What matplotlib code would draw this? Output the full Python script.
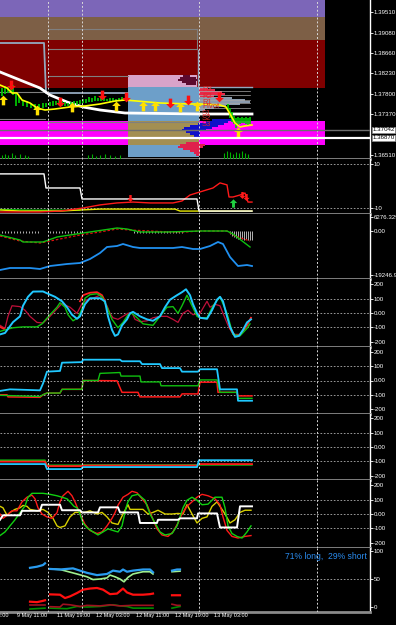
import numpy as np
import matplotlib
matplotlib.use('Agg')
import matplotlib.pyplot as plt
from matplotlib.path import Path
import matplotlib.transforms as mtrans

plt.rcParams['font.family'] = ['Liberation Sans', 'DejaVu Sans']
nan = np.nan

# ---------------- shared ----------------
vgrid_x = [48, 82, 199, 317]
time_tick_x = [-22, 17, 57, 96, 136, 175, 214]
time_tick_labels = ['9 May 03:00', '9 May 11:00', '11 May 19:00', '12 May 03:00',
                    '12 May 11:00', '12 May 19:00', '13 May 03:00']

# ---------------- panel 1 : price ----------------
price_ticks = [1.39510, 1.39080, 1.38660, 1.38230, 1.37800, 1.37370, 1.36510]
band_lo = [1.39412, 1.38928, 1.37919, 1.36721]
band_hi = [1.39800, 1.39412, 1.38928, 1.37226]
band_colors = ['#7c66b8', '#7d5f46', '#800000', '#ff00ff']
box_x0 = [128, 128, 128]
box_x1 = [199, 197, 199]
box_lo = [1.36469, 1.37940, 1.36721]
box_hi = [1.37940, 1.38193, 1.37226]
box_colors = ['#6d9fc9', '#d9a3c9', '#a38f52']

prof_price = [1.38171, 1.38129, 1.38087, 1.38045, 1.38003,
              1.37919, 1.37877, 1.37835, 1.37793, 1.37751,
              1.37709, 1.37667, 1.37625, 1.37583, 1.37541, 1.37499, 1.37457,
              1.37247, 1.37205, 1.37163, 1.37121, 1.37079, 1.37036, 1.36994, 1.36952, 1.36910,
              1.36763, 1.36721, 1.36679, 1.36637, 1.36595, 1.36553, 1.36511]
prof_left = [183, 180, 178, 182, 186,
             199, 199, 199, 199, 199,
             199, 199, 199, 199, 199, 199, 199,
             212, 206, 198, 190, 184, 182, 186, 190, 194,
             186, 180, 178, 183, 190, 194, 196]
prof_right = [190, 196, 198, 196, 196,
              208, 215, 222, 225, 214,
              232, 245, 250, 240, 226, 214, 205,
              232, 228, 224, 218, 212, 206, 200, 200, 200,
              200, 205, 203, 200, 200, 200, 200]
prof_colors = ['#5c0a2e'] * 5 + ['#e8284a'] * 5 + ['#8c9cae'] * 7 + ['#1010c8'] * 9 + ['#e0204c'] * 7
prof_line_price = [1.37856, 1.37772, 1.37667, 1.37604, 1.37499]

steel_x = [0, 44, 46, 128]
steel_p = [1.38865, 1.38865, 1.37814, 1.37814]
steel2_x = [198, 198, 252]
steel2_p = [1.38718, 1.37940, 1.37940]
gray_seg_x = [[48, 197], [48, 197], [197, 197], [48, 128], [0, 45], [0, 45], [48, 199]]
gray_seg_p = [[1.39159, 1.39159], [1.38739, 1.38739], [1.39159, 1.38739], [1.38171, 1.38171],
              [1.37835, 1.37835], [1.37268, 1.37268], [1.37205, 1.37205]]

white_ma_x = [0, 20, 40, 50, 67, 83, 100, 125, 200, 252]
white_ma_p = [1.38256, 1.38087, 1.37919, 1.37772, 1.37625, 1.37520, 1.37457, 1.37394, 1.37373, 1.37373]
yel_x = [0, 7, 12, 17, 22, 30, 37, 45, 55, 70, 85, 100, 115, 125, 160, 190, 200, 220, 226, 230, 235, 240, 245, 252]
yel_p = [1.37982, 1.37919, 1.37814, 1.37814, 1.37667, 1.37604, 1.37499, 1.37457, 1.37478, 1.37520,
         1.37541, 1.37583, 1.37646, 1.37667, 1.37604, 1.37583, 1.37583, 1.37562, 1.37520, 1.37373,
         1.37184, 1.37100, 1.37121, 1.37142]

candle_x = [2, 5, 8, 11, 13, 16, 19, 23, 27, 31, 35, 39, 43, 46, 50, 53, 56, 59, 62, 65, 68, 71, 74, 77,
            80, 83, 86, 89, 92, 95, 98, 101, 104, 107, 110, 113, 116, 119, 122, 125,
            228, 230, 232, 234, 236, 238, 240, 242, 244, 246, 248, 250]
candle_hi = [1.37919, 1.37961, 1.37940, 1.38003, 1.37982, 1.37793, 1.37751, 1.37667, 1.37646, 1.37604,
             1.37583, 1.37583, 1.37604, 1.37604, 1.37625, 1.37646, 1.37646, 1.37667, 1.37646, 1.37625,
             1.37604, 1.37625, 1.37646, 1.37646, 1.37667, 1.37688, 1.37688, 1.37730, 1.37709, 1.37751,
             1.37709, 1.37730, 1.37730, 1.37688, 1.37709, 1.37709, 1.37688, 1.37709, 1.37730, 1.37709,
             1.37583, 1.37499, 1.37415, 1.37331, 1.37289, 1.37310, 1.37289, 1.37310, 1.37289, 1.37310,
             1.37289, 1.37310]
candle_lo = [1.37751, 1.37793, 1.37814, 1.37835, 1.37772, 1.37541, 1.37604, 1.37541, 1.37520, 1.37499,
             1.37457, 1.37478, 1.37499, 1.37520, 1.37541, 1.37541, 1.37562, 1.37562, 1.37541, 1.37541,
             1.37541, 1.37541, 1.37562, 1.37562, 1.37583, 1.37604, 1.37604, 1.37625, 1.37625, 1.37646,
             1.37646, 1.37646, 1.37646, 1.37646, 1.37625, 1.37625, 1.37625, 1.37646, 1.37667, 1.37646,
             1.37457, 1.37289, 1.37205, 1.37163, 1.37079, 1.37142, 1.37163, 1.37184, 1.37184, 1.37163,
             1.37121, 1.37163]
vol_x = [2, 5, 8, 12, 15, 20, 25, 28, 88, 92, 96, 100, 105, 110, 115, 120,
         224, 227, 230, 233, 236, 239, 242, 245, 248]
vol_top = [1.36511, 1.36532, 1.36511, 1.36553, 1.36511, 1.36532, 1.36511, 1.36490, 1.36511, 1.36532,
           1.36490, 1.36511, 1.36532, 1.36511, 1.36490, 1.36511, 1.36553, 1.36595, 1.36574, 1.36532,
           1.36574, 1.36553, 1.36595, 1.36553, 1.36532]

up_x = [3, 37, 72, 116, 143, 155, 180, 197, 238]
up_p = [1.37667, 1.37457, 1.37520, 1.37541, 1.37541, 1.37541, 1.37520, 1.37541, 1.36994]
dn_x = [11, 60, 102, 126, 170, 188, 219]
dn_p = [1.37982, 1.37625, 1.37772, 1.37730, 1.37604, 1.37667, 1.37730]

pivot_names = ['R3', 'R2', 'R1', 'Pivot', 'S1', 'S2', 'S3']
pivot_p = [1.37898, 1.37751, 1.37625, 1.37520, 1.37373, 1.37268, 1.37142]
bid_price = 1.37042
ask_price = 1.36870

# ---------------- panel 2 ----------------
p2_white_x = [0, 44, 46, 80, 82, 197, 199, 252]
p2_white_v = [5.5, 5.5, -0.9, -0.9, -5.9, -5.9, -11.4, -11.4]
p2_red_x = [0, 40, 60, 83, 100, 117, 133, 150, 173, 182, 190, 200, 213, 220, 227, 229, 233, 240, 245, 248, 252]
p2_red_v = [-11.8, -11.8, -11.4, -10.0, -8.6, -7.7, -7.3, -7.7, -7.7, -6.8, -4.1, -2.7, -0.9, 1.4, 0.5,
            -5.0, -5.0, -4.1, -3.2, -7.3, -7.3]
p2_yel_x = [0, 20, 60, 80, 100, 175, 180, 240, 252]
p2_yel_v = [-10.9, -11.4, -11.4, -10.9, -10.5, -10.5, -11.4, -11.4, -11.4]
p2_grn_x = [0, 30, 80]
p2_grn_v = [-10.7, -11.0, -11.0]
p2_up_x, p2_up_v = [233], [-7.9]
p2_dn_x, p2_dn_v = [130, 242, 246], [-5.5, -4.3, -4.8]

# ---------------- panel 3 ----------------
p3_labels_v = [6276.329, 0.0, -19246.9]
p3_labels = ['6276.329', '0.00', '-19246.9']
p3_grn_x = [0, 20, 23, 43, 57, 83, 117, 127, 140, 167, 200, 227, 233, 250]
p3_grn_v = [-1750, -3937, -4811, -4811, -2624, -875, 1312, 875, -437, -437, 0, 0, -1312, -6998]
p3_red_x = [0, 20, 40, 60, 80, 100, 117, 130, 150, 170, 185, 200, 227, 235, 250]
p3_red_v = [-2187, -4374, -5249, -3499, -1750, -437, 875, 437, 0, -437, -437, 0, 0, -2187, -4374]
p3_blue_x = [0, 10, 30, 40, 50, 67, 80, 90, 100, 107, 117, 123, 133, 140, 150, 173, 182, 193, 200,
             210, 218, 223, 230, 238, 247, 252]
p3_blue_v = [-17059, -16184, -16184, -16621, -15309, -14434, -13997, -12247, -9623, -6998, -6561,
             -5686, -6998, -7436, -7436, -7436, -6998, -7873, -7873, -6561, -4811, -5686, -11372,
             -15309, -14872, -15309]
p3_hist_x = [2, 5, 8, 11, 14, 17, 20, 23, 26, 29, 32, 35, 38, 50, 53, 56, 59, 62, 65, 68, 71, 74, 77, 80,
             134, 137, 140, 143, 146, 149, 152, 155, 158, 161, 164, 167, 170, 173, 176, 179, 182,
             230, 232, 234, 236, 238, 240, 242, 244, 246, 248, 250, 252]
p3_hist_v = [-900, -800, -900, -1000, -900, -800, -900, -900, -1000, -900, -800, -900, -900,
             -700, -800, -700, -800, -900, -800, -700, -800, -800, -700, -800,
             -700, -800, -900, -800, -700, -800, -800, -900, -800, -700, -800, -900, -800, -700, -800, -800, -700,
             -1500, -2200, -2600, -3000, -3300, -3500, -3700, -3900, -3700, -3900, -4100, -3900]

# ---------------- panel 4 ----------------
osc_ticks = [200, 100, 0, -100, -200]
osc_tick_labels = ['200', '100', '0.00', '-100', '-200']
p4_cyan_x = [0, 5, 13, 20, 23, 28, 33, 43, 48, 55, 62, 67, 72, 77, 80, 85, 90, 100, 105, 108, 112, 115,
             118, 122, 127, 130, 133, 140, 147, 153, 160, 165, 170, 177, 182, 186, 190, 193, 197, 200,
             207, 212, 217, 220, 223, 227, 230, 235, 239, 243, 247, 251]
p4_cyan_v = [-148, -138, -63, -23, 50, 112, 148, 149, 133, 112, 81, 40, -12, -40, -23, 61, 102, 102, 81,
             -23, -117, -158, -148, -86, -44, -2, 8, -23, -44, -54, -23, 40, 92, 123, 144, 164, 123, 61,
             -2, -33, -40, 19, 92, 112, 81, -23, -96, -165, -158, -117, -65, -44]
p4_grn_x = [0, 5, 13, 23, 37, 42, 50, 57, 60, 65, 68, 73, 78, 82, 85, 90, 97, 102, 107, 112, 118, 123,
            128, 132, 137, 143, 153, 160, 167, 173, 178, 182, 187, 192, 197, 200, 207, 213, 220, 227,
            233, 240, 247, 250]
p4_grn_v = [-127, -117, -102, -96, -96, -75, -12, 40, 71, 40, -12, -54, -33, 29, 102, 127, 133, 112, 40,
            -44, -102, -65, -12, -2, -33, -75, -85, -23, 40, 44, -2, 50, 123, 50, -23, -33, -33, 50, 112,
            -2, -148, -158, -106, -75]
p4_red_x = [0, 4, nan, 80, 83, 90, 97, 102, 105, nan, 230, 235, 240, 247, 251]
p4_red_v = [-96, -110, nan, 81, 123, 140, 144, 123, 81, nan, -106, -158, -152, -85, -33]
p4_dred_x = [0, 5, 8, 12, 20, 25, 30, 37, 43, 50, 57, 62, 70, 77, 82, 87, 93, 100, 107, 110, 113, 118,
             123, 128, 132, 135, 140, 147, 153, 160, 167, 173, 178, 183, 188, 193, 200, 207, 210, 215,
             220, 223, 228, 233, 240, 247, 251]
p4_dred_v = [-85, -106, -23, 50, 44, 19, -23, -65, -69, -23, 29, 65, 40, -2, 65, 92, 102, 123, 50, -2,
             -33, -44, -23, -2, 2, -44, -60, -54, -33, -23, -23, -44, -65, -2, 19, -12, -2, 81, 40, 60,
             50, -2, -85, -148, -148, -85, -33]

# ---------------- panel 5 ----------------
p5_cyan_x = [0, 10, 40, 43, 47, 60, 62, 82, 83, 120, 122, 140, 142, 160, 162, 180, 182, 198, 200, 217,
             220, 237, 238, 252]
p5_cyan_v = [-73, -62, -69, -21, 62, 67, 125, 129, 146, 146, 135, 135, 115, 115, 87, 87, 62, 62, 79, 79,
             -62, -62, -142, -142]
p5_grn_x = [0, 40, 43, 47, 60, 62, 82, 83, 98, 100, 120, 121, 140, 141, 160, 161, 198, 200, 217, 220,
            237, 238, 252]
p5_grn_v = [-104, -112, -100, -88, -88, -62, -62, 0, 0, 50, 56, 31, 31, -10, -10, -37, -37, 4, 4, -83,
            -83, -125, -125]
p5_red_x = [0, 7, 8, 40, 43, 47, 60, 62, 82, 83, 117, 122, 138, 140, 180, 182, 198, 200, 217, 218, 237,
            238, 252]
p5_red_v = [-100, -100, -115, -118, -100, -88, -88, -62, -62, 0, -2, -83, -83, -115, -115, -94, -94,
            -12, -12, -83, -83, -108, -108]

# ---------------- panel 6 ----------------
p6_x = [0, 45, 47, 81, 83, 197, 199, 252]
p6_grn_v = [-92, -92, -127, -127, -125, -125, -125, -125]
p6_red_v = [-102, -102, -133, -133, -129, -129, -119, -119]
p6_cyan_v = [-119, -119, -154, -154, -140, -140, -92, -92]

# ---------------- panel 7 ----------------
p7_grn_x = [0, 5, 10, 15, 20, 25, 28, 32, 43, 50, 57, 62, 67, 70, 74, 77, 80, 83, 87, 93, 98, 103, 108,
            113, 118, 122, 124, 126, 128, 132, 138, 145, 150, 155, 160, 165, 172, 177, 180, 183, 187,
            192, 197, 202, 208, 215, 222, 225, 228, 232, 237, 242, 247, 251]
p7_grn_v = [-149, -124, -82, -40, 9, 55, 116, 143, 143, 136, 126, 116, 105, 84, 53, 43, 0, -62, -95,
            -124, -145, -124, -103, -114, -124, -82, -20, 43, 85, 126, 136, 95, 0, -62, -124, -145, -135,
            -82, -20, 43, 95, 116, 95, 64, 68, 116, 116, 43, -82, -135, -155, -166, -124, -82]
p7_red_x = [0, 3, 7, 12, 17, 22, 27, 32, 35, 38, 42, 47, 52, 57, 60, 63, 68, 72, 75, 80, 85, 90, 97,
            102, 107, 112, 115, 118, 123, 128, 132, 137, 142, 147, 152, 157, 162, 168, 173, 178, 182,
            187, 192, 197, 202, 208, 215, 220, 223, 227, 232, 238, 245, 251]
p7_red_v = [0, -30, -9, 22, 22, 84, 116, 130, 105, 43, 0, -20, -30, 9, 84, 126, 157, 126, 84, 0, -72,
            -114, -135, -124, -82, -30, 9, 61, 116, 136, 157, 147, 105, 64, -20, -103, -145, -155, -124,
            -62, 0, 53, 84, 116, 136, 126, 105, 64, -20, -114, -155, -166, -155, -149]
p7_yel_x = [0, 3, 7, 10, 15, 20, 23, 27, 30, 37, 43, 48, 53, 57, 60, 65, 70, 75, 80, 85, 90, 97, 102,
            107, 112, 118, 123, 128, 130, 137, 143, 148, 153, 158, 165, 172, 178, 183, 187, 192, 197,
            202, 207, 212, 217, 222, 225, 230, 235, 240, 245, 251]
p7_yel_v = [53, 43, -9, 11, 32, 43, 59, 53, 32, 22, 32, 11, -30, -82, -93, -82, -20, 11, 11, 11, 22, 0,
            11, -20, -62, -72, 0, 64, 32, 32, 32, 0, 11, 26, 0, 0, 4, 0, 64, 0, -62, -30, -20, 53, 84,
            32, 0, -62, -40, 11, 26, 26]
p7_white_x = [0, 3, 20, 22, 40, 42, 60, 62, 80, 82, 98, 100, 118, 120, 138, 140, 157, 158, 178, 180,
              197, 198, 217, 220, 237, 240, 252]
p7_white_v = [-40, -9, -9, 22, 22, 64, 64, 26, 26, 11, 11, 46, 46, 11, 11, -62, -62, -40, -40, -30,
              -30, 4, 4, -93, -93, 53, 53]

# ---------------- panel 8 : sentiment ----------------
p8_ticks = [100, 50, 0]
p8_blue_x = [30, 37, 43, 45, nan, 50, 60, 73, 80, 87, 97, 107, 113, 120, 123, 127, 133, 143, 150, 153,
             nan, 172, 177, 180]
p8_blue_v = [70, 72, 75, 78, nan, 68, 67, 69, 65, 61, 57, 59, 65, 63, 67, 63, 65, 67, 67, 62, nan,
             65, 67, 67]
p8_lgrn_x = [50, 60, 77, 87, 93, 100, 107, 110, 115, 120, 124, 128, 133, 143, 150, 153, nan, 172, 180]
p8_lgrn_v = [68, 67, 59, 54, 49, 50, 52, 57, 54, 50, 45, 53, 59, 63, 63, 59, nan, 63, 64]
p8_red_x = [30, 37, 43, 45, nan, 50, 60, 65, 70, 77, 83, 90, 97, 103, 110, 117, 123, 127, 133, 143,
            150, 153, nan, 172, 180]
p8_red_v = [9.5, 8.7, 11, 12, nan, 22.6, 22, 16, 19, 25, 31, 33, 34, 31, 23, 24, 33, 26, 22, 22, 23,
            24, nan, 21, 21]
p8_dred_x = [30, 45, nan, 50, 60, 63, 70, 80, 87, 100, 110, 120, 133, 153, nan, 172, 177, 180]
p8_dred_v = [3.6, 3.6, nan, 0.6, 0, 5, 4, 1, 3, 2, 4, 2, 3, 3, nan, 5, 3, 3]
p8_grn_x = [30, 45, nan, 50, 67, 77, 87, 100, 113, 120, 127, 133, 153, nan, 172, 180]
p8_grn_v = [-3.6, -2, nan, -2, -3, 1, 0, 1, 4, 2, 1, -2, -2, nan, -2, 1]
sentiment_text = '71% long,  29% short'

# ---------------- layout ----------------
W, H = 396, 625
AXR = 370
TICK_FS = 4.4
fig = plt.figure(figsize=(W / 100, H / 100), dpi=100, facecolor='black')

up_path = Path([(0, 1), (-0.9, 0.1), (-0.35, 0.1), (-0.35, -1), (0.35, -1), (0.35, 0.1), (0.9, 0.1), (0, 1)],
               [Path.MOVETO] + [Path.LINETO] * 6 + [Path.CLOSEPOLY])
dn_path = Path([(0, -1), (-0.9, -0.1), (-0.35, -0.1), (-0.35, 1), (0.35, 1), (0.35, -0.1), (0.9, -0.1), (0, -1)],
               [Path.MOVETO] + [Path.LINETO] * 6 + [Path.CLOSEPOLY])


def make_ax(top, bot, ylim, ticks, labels, hlevels=()):
    ax = fig.add_axes([0, 1 - bot / H, AXR / W, (bot - top) / H])
    ax.set_facecolor('black')
    ax.set_xlim(0, AXR)
    ax.set_ylim(*ylim)
    ax.spines['left'].set_visible(False)
    ax.spines['top'].set_visible(False)
    ax.spines['right'].set_color('white')
    ax.spines['right'].set_linewidth(1.0)
    ax.spines['bottom'].set_color('#8a8a8a')
    ax.spines['bottom'].set_linewidth(2.0)
    ax.set_yticks(ticks)
    ax.set_yticklabels(labels)
    ax.tick_params(axis='y', left=False, right=True, labelleft=False, labelright=True,
                   colors='white', labelsize=TICK_FS, length=2, width=0.6, pad=0.8)
    ax.tick_params(axis='x', bottom=False, labelbottom=False)
    for xv in vgrid_x:
        ax.axvline(xv, color='#d8d8d8', lw=0.7, ls=(0, (2, 2)), zorder=6)
    for hv in hlevels:
        ax.axhline(hv, color='#b0b0b0', lw=0.6, ls=(0, (2, 2)), zorder=1)
    return ax


# ---- panel 1
ax1 = make_ax(0, 159, (1.36427, 1.39769), price_ticks, ['%.5f' % p for p in price_ticks])
for lo, hi, c in zip(band_lo, band_hi, band_colors):
    ax1.fill_between([0, 325], lo, hi, color=c, lw=0, zorder=1)
for x0, x1, lo, hi, c in zip(box_x0, box_x1, box_lo, box_hi, box_colors):
    ax1.fill_between([x0, x1], lo, hi, color=c, lw=0, zorder=2)
ax1.barh(prof_price, [r - l for l, r in zip(prof_left, prof_right)], left=prof_left, height=0.00045,
         color=prof_colors, lw=0, zorder=3)
for pp in prof_line_price:
    ax1.plot([199, 250], [pp, pp], color='#a8a8a8', lw=0.5, zorder=3)
for xs, ps in zip(gray_seg_x, gray_seg_p):
    ax1.plot(xs, ps, color='#7f7f7f', lw=0.8, zorder=3)
ax1.plot(steel_x, steel_p, color='#93a8be', lw=1.3, zorder=4)
ax1.plot(steel2_x, steel2_p, color='#93a8be', lw=1.0, zorder=4)
ax1.vlines(vol_x, 1.36427, vol_top, color='#00b000', lw=0.8, zorder=3)
ax1.plot(white_ma_x, white_ma_p, color='white', lw=2.0, zorder=5)
ax1.vlines(candle_x, candle_lo, candle_hi, color='#00d000', lw=1.2, zorder=5)
ax1.plot(yel_x, yel_p, color='#ffff00', lw=1.2, zorder=6)
ax1.plot(up_x, up_p, ls='none', marker=up_path, ms=7, color='#ffe000', mec='none', zorder=7)
ax1.plot(dn_x, dn_p, ls='none', marker=dn_path, ms=7, color='#ff1010', mec='none', zorder=7)
for n, p in zip(pivot_names, pivot_p):
    ax1.text(202, p, n, color='#e02828', fontsize=5.5, va='center', ha='left', zorder=8)
ax1.axhline(bid_price, color='#6e6e6e', lw=1.0, zorder=8)
ax1.axhline(ask_price, color='white', lw=1.6, zorder=8)
tr1 = mtrans.blended_transform_factory(ax1.transAxes, ax1.transData)
for p in (bid_price, ask_price):
    ax1.text(1.006, p, '%.5f' % p, transform=tr1, fontsize=TICK_FS, color='black', va='center', ha='left',
             bbox=dict(boxstyle='square,pad=0.1', fc='white', ec='#909090', lw=0.5), clip_on=False, zorder=9)

# ---- panel 2
ax2 = make_ax(159, 214, (-12.73, 12.27), [10, -10], ['10', '-10'], hlevels=(10, -10))
ax2.plot(p2_grn_x, p2_grn_v, color='#00c000', lw=1.0, zorder=3)
ax2.plot(p2_yel_x, p2_yel_v, color='#e8e800', lw=1.0, zorder=3)
ax2.plot(p2_red_x, p2_red_v, color='#ff1a1a', lw=1.0, zorder=4)
ax2.plot(p2_white_x, p2_white_v, color='white', lw=1.0, zorder=5)
ax2.plot(p2_up_x, p2_up_v, ls='none', marker=up_path, ms=6, color='#20d040', mec='none', zorder=7)
ax2.plot(p2_dn_x, p2_dn_v, ls='none', marker=dn_path, ms=5, color='#ff1a1a', mec='none', zorder=7)

# ---- panel 3
ax3 = make_ax(214, 279, (-20995, 7436), p3_labels_v, p3_labels)
ax3.vlines(p3_hist_x, 0, p3_hist_v, color='#d0d0d0', lw=0.6, zorder=2)
ax3.plot(p3_red_x, p3_red_v, color='#e01010', lw=0.9, ls=(0, (2, 1.5)), zorder=3)
ax3.plot(p3_grn_x, p3_grn_v, color='#10c010', lw=1.0, zorder=4)
ax3.plot(p3_blue_x, p3_blue_v, color='#2090f0', lw=1.3, zorder=4)

# ---- panel 4
ax4 = make_ax(279, 347, (-235, 235), osc_ticks, osc_tick_labels, hlevels=(100, 0, -100))
ax4.plot(p4_dred_x, p4_dred_v, color='#c0103a', lw=0.9, zorder=3)
ax4.plot(p4_red_x, p4_red_v, color='#ff2020', lw=1.3, zorder=3)
ax4.plot(p4_grn_x, p4_grn_v, color='#10c010', lw=1.0, zorder=4)
ax4.plot(p4_cyan_x, p4_cyan_v, color='#20c8ff', lw=1.4, zorder=5)

# ---- panel 5
ax5 = make_ax(347, 414, (-235, 235), osc_ticks, osc_tick_labels, hlevels=(100, 0, -100))
ax5.plot(p5_red_x, p5_red_v, color='#ff1a1a', lw=1.1, zorder=3)
ax5.plot(p5_grn_x, p5_grn_v, color='#10c010', lw=1.0, zorder=4)
ax5.plot(p5_cyan_x, p5_cyan_v, color='#20c8ff', lw=1.3, zorder=5)

# ---- panel 6
ax6 = make_ax(414, 480, (-230, 230), osc_ticks, osc_tick_labels, hlevels=(100, 0, -100))
ax6.plot(p6_x, p6_grn_v, color='#10c010', lw=1.1, zorder=3)
ax6.plot(p6_x, p6_red_v, color='#ff1a1a', lw=1.3, zorder=4)
ax6.plot(p6_x, p6_cyan_v, color='#20c8ff', lw=1.3, zorder=5)

# ---- panel 7
ax7 = make_ax(480, 548, (-235, 235), osc_ticks, osc_tick_labels, hlevels=(100, 0, -100))
ax7.plot(p7_yel_x, p7_yel_v, color='#d8d000', lw=1.0, zorder=3)
ax7.plot(p7_red_x, p7_red_v, color='#ff1a1a', lw=1.0, zorder=4)
ax7.plot(p7_grn_x, p7_grn_v, color='#10d010', lw=1.0, zorder=4)
ax7.plot(p7_white_x, p7_white_v, color='white', lw=1.4, zorder=5)

# ---- panel 8
ax8 = make_ax(548, 612, (-8.9, 105.4), p8_ticks, ['100', '50', '0'], hlevels=(50,))
ax8.plot(p8_grn_x, p8_grn_v, color='#008a00', lw=1.2, zorder=3)
ax8.plot(p8_dred_x, p8_dred_v, color='#a01020', lw=1.2, zorder=3)
ax8.plot(p8_red_x, p8_red_v, color='#ff1010', lw=1.6, zorder=4)
ax8.plot(p8_lgrn_x, p8_lgrn_v, color='#a0f090', lw=1.2, zorder=4)
ax8.plot(p8_blue_x, p8_blue_v, color='#2a9cf0', lw=1.6, zorder=5)
ax8.text(367, 91, sentiment_text, color='#2a8cf0', fontsize=6.2, ha='right', va='center', zorder=8)
for tx, tl in zip(time_tick_x, time_tick_labels):
    ax8.text(tx, -14.5, tl, color='white', fontsize=4.0, ha='left', va='center', clip_on=False)
    ax8.plot([tx, tx], [-8.9, -11.5], color='white', lw=0.6, clip_on=False)

fig.savefig('out.png', dpi=100, facecolor='black')
